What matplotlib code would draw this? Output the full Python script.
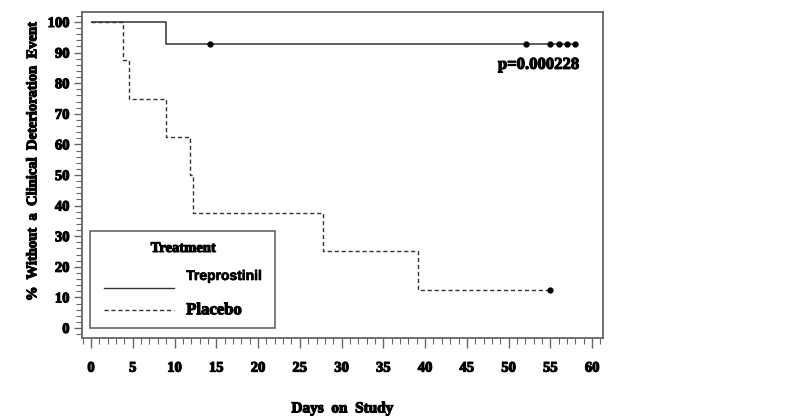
import matplotlib
matplotlib.use("Agg")
import matplotlib.pyplot as plt
from matplotlib.ticker import MultipleLocator
from matplotlib.font_manager import FontProperties
import matplotlib.patheffects as pe

# ---- data ----
trep_event_days = [0, 9.0]
trep_surv = [100.0, 92.86]
trep_end_day = 58.0
trep_censor_days = [14.3, 52.1, 55.0, 56.0, 57.0, 58.0]

placebo_event_days = [0, 3.8, 4.6, 9.0, 11.8, 12.2, 27.8, 39.2]
placebo_surv = [100.0, 87.5, 75.0, 62.5, 50.0, 37.5, 25.0, 12.5]
placebo_end_day = 55.0
placebo_censor_days = [55.0]

x_ticks = [0, 5, 10, 15, 20, 25, 30, 35, 40, 45, 50, 55, 60]
y_ticks = [0, 10, 20, 30, 40, 50, 60, 70, 80, 90, 100]
p_text = "p=0.000228"

SERIF = ["Liberation Serif", "DejaVu Serif"]
heavy = [pe.withStroke(linewidth=0.8, foreground="black")]
sans_bold = FontProperties(family="Liberation Sans", weight="bold", size=10)

fig = plt.figure(figsize=(7.91, 4.16), dpi=100)
ax = fig.add_axes([82 / 791, 1 - 338 / 416, (603 - 82) / 791, (338 - 12) / 416])

line_col = "#333333"
frame_col = "#666666"

# Treprostinil (solid)
tx = trep_event_days + [trep_end_day]
ty = trep_surv + [trep_surv[-1]]
ax.step(tx, ty, where="post", color=line_col, lw=1.1, solid_capstyle="butt")
ax.plot(trep_censor_days, [trep_surv[-1]] * len(trep_censor_days), "o",
        color="black", ms=3.5)

# Placebo (dashed)
px = placebo_event_days + [placebo_end_day]
py = placebo_surv + [placebo_surv[-1]]
ax.step(px, py, where="post", color=line_col, lw=1.0, linestyle=(0, (3, 2)))
ax.plot(placebo_censor_days, [placebo_surv[-1]] * len(placebo_censor_days), "o",
        color="black", ms=3.5)

ax.set_xlim(-1.08, 61.3)
ax.set_ylim(-3.27, 103.27)

for s in ax.spines.values():
    s.set_color(frame_col)
    s.set_linewidth(1.3)

ax.set_xticks(x_ticks)
ax.set_yticks(y_ticks)
ax.xaxis.set_minor_locator(MultipleLocator(1))
ax.yaxis.set_minor_locator(MultipleLocator(2))
ax.set_xticklabels([str(v) for v in x_ticks])
ax.set_yticklabels([str(v) for v in y_ticks])
ax.tick_params(which="major", direction="out", length=7, width=1.0, color=frame_col, pad=10)
ax.tick_params(which="minor", direction="out", length=4, width=0.8, color=frame_col)
ax.tick_params(axis="y", which="major", length=6, pad=3)
ax.tick_params(axis="y", which="minor", length=4)
for lab in ax.get_xticklabels() + ax.get_yticklabels():
    lab.set_fontfamily(SERIF)
    lab.set_fontweight("bold")
    lab.set_fontsize(10.5)
    lab.set_path_effects(heavy)

ax.set_xlabel("Days  on  Study", fontfamily=SERIF, fontweight="bold", fontsize=11,
              labelpad=20, path_effects=heavy)
ax.set_ylabel("%  Without  a  Clinical  Deterioration  Event", fontfamily=SERIF,
              fontweight="bold", fontsize=10.5, labelpad=12, path_effects=heavy)
ax.yaxis.set_label_coords(-0.082, (338 - 161) / 326)

ax.text(58.4, 86.0, p_text, ha="right", va="center", fontfamily=SERIF,
        fontweight="bold", fontsize=12, path_effects=heavy)

# Legend box
lx0, lx1 = -0.1, 22.0
ly0, ly1 = 0.0, 31.8
ax.add_patch(plt.Rectangle((lx0, ly0), lx1 - lx0, ly1 - ly0, fill=False,
                           edgecolor=frame_col, lw=1.2))
ax.text((lx0 + lx1) / 2 + 0.1, 26.0, "Treatment", ha="center", va="center",
        fontfamily=SERIF, fontweight="bold", fontsize=10.5, path_effects=heavy)
ax.plot([1.5, 9.9], [13.2, 13.2], color=line_col, lw=1.0)
ax.plot([1.5, 9.9], [5.8, 5.8], color=line_col, lw=1.0, linestyle=(0, (3, 2)))
ax.text(11.4, 17.0, "Treprostinil", ha="left", va="center",
        fontproperties=sans_bold,
        path_effects=[pe.withStroke(linewidth=0.5, foreground="black")])
ax.text(11.4, 5.8, "Placebo", ha="left", va="center",
        fontfamily=SERIF, fontweight="bold", fontsize=12, path_effects=heavy)

fig.savefig("out.png", dpi=100)
